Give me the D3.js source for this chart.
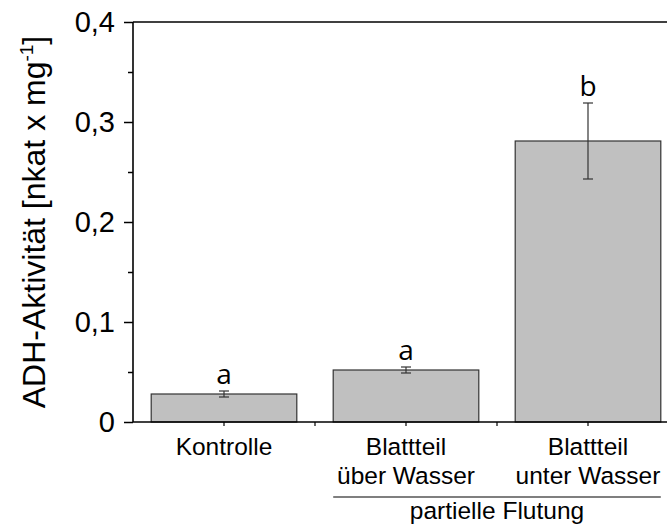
<!DOCTYPE html>
<html>
<head>
<meta charset="utf-8">
<script src="https://cdn.jsdelivr.net/npm/d3@7"></script>
<style>
  body { margin: 0; background: #fff; }
  text { font-family: "Liberation Sans", Arial, sans-serif; fill: #000; }
</style>
</head>
<body>
<svg width="667" height="529"></svg>
<script>
// ADH activity data
var categories = ["Kontrolle", "Blattteil über Wasser", "Blattteil unter Wasser"];
var labelLines = [["Kontrolle"], ["Blattteil", "über Wasser"], ["Blattteil", "unter Wasser"]];
var values = [0.028, 0.052, 0.281];
var errors = [0.003, 0.003, 0.038];
var letters = ["a", "a", "b"];
var yTicks = [0, 0.1, 0.2, 0.3, 0.4];
var yMinorTicks = [0.05, 0.15, 0.25, 0.35];
var groupLabel = "partielle Flutung";
var groupMembers = ["Blattteil über Wasser", "Blattteil unter Wasser"];

var svg = d3.select("svg");
var plotLeft = 133, plotTop = 22, plotBottom = 422, plotRight = 679;

var x = d3.scaleBand()
    .domain(categories)
    .range([plotLeft, plotRight])
    .paddingInner(0.2)
    .paddingOuter(0.1);

var y = d3.scaleLinear()
    .domain([0, 0.4])
    .range([plotBottom, plotTop]);

var de = d3.formatLocale({decimal: ",", thousands: ".", grouping: [3], currency: ["", "€"]});
var fmt = function (d) { return d === 0 ? "0" : de.format(".1f")(d); };

// bars
var data = categories.map(function (c, i) {
    return {cat: c, v: values[i], e: errors[i], letter: letters[i], lines: labelLines[i]};
});

svg.append("g").selectAll("rect")
    .data(data)
    .enter().append("rect")
    .attr("x", function (d) { return x(d.cat); })
    .attr("y", function (d) { return y(d.v); })
    .attr("width", x.bandwidth())
    .attr("height", function (d) { return y(0) - y(d.v); })
    .attr("fill", "#c0c0c0")
    .attr("stroke", "#333")
    .attr("stroke-width", 1.2);

// error bars
var eb = svg.append("g").selectAll("g")
    .data(data)
    .enter().append("g")
    .attr("stroke", "#333")
    .attr("stroke-width", 1.2);
eb.append("line")
    .attr("x1", function (d) { return x(d.cat) + x.bandwidth() / 2; })
    .attr("x2", function (d) { return x(d.cat) + x.bandwidth() / 2; })
    .attr("y1", function (d) { return y(d.v + d.e); })
    .attr("y2", function (d) { return y(d.v - d.e); });
[1, -1].forEach(function (s) {
    eb.append("line")
        .attr("x1", function (d) { return x(d.cat) + x.bandwidth() / 2 - 5; })
        .attr("x2", function (d) { return x(d.cat) + x.bandwidth() / 2 + 5; })
        .attr("y1", function (d) { return y(d.v + s * d.e); })
        .attr("y2", function (d) { return y(d.v + s * d.e); });
});

// significance letters
svg.append("g").selectAll("text")
    .data(data)
    .enter().append("text")
    .attr("x", function (d) { return x(d.cat) + x.bandwidth() / 2; })
    .attr("y", function (d) { return y(d.v + d.e) - 7; })
    .attr("text-anchor", "middle")
    .style("font-family", "'Open Sans', sans-serif")
    .style("font-size", "28px")
    .text(function (d) { return d.letter; });

// y axis
var yAxis = d3.axisLeft(y)
    .tickValues(yTicks)
    .tickFormat(fmt)
    .tickSize(9)
    .tickPadding(9);
var ya = svg.append("g")
    .attr("transform", "translate(" + plotLeft + ",0)")
    .call(yAxis);
ya.select(".domain").remove();
ya.selectAll("line").attr("stroke", "#000").attr("stroke-width", 1.5);
ya.selectAll("text").style("font-size", "29px").style("font-family", "'Liberation Sans', Arial, sans-serif");

var yMinor = svg.append("g")
    .attr("transform", "translate(" + plotLeft + ",0)")
    .call(d3.axisLeft(y).tickValues(yMinorTicks).tickSize(5).tickFormat(""));
yMinor.select(".domain").remove();
yMinor.selectAll("line").attr("stroke", "#000").attr("stroke-width", 1.5);

// x ticks at centers and between bars
var xTickPos = [];
categories.forEach(function (c, i) {
    xTickPos.push(x(c) + x.bandwidth() / 2);
    xTickPos.push(x(c) + x.bandwidth() / 2 + x.step() / 2);
});
svg.append("g").selectAll("line")
    .data(xTickPos)
    .enter().append("line")
    .attr("x1", function (d) { return d; })
    .attr("x2", function (d) { return d; })
    .attr("y1", plotBottom)
    .attr("y2", plotBottom + 4)
    .attr("stroke", "#000")
    .attr("stroke-width", 1.2);

// frame
var frame = svg.append("g").attr("stroke", "#000").attr("stroke-width", 1.6).attr("fill", "none");
frame.append("line").attr("x1", plotLeft).attr("x2", plotLeft).attr("y1", plotTop).attr("y2", plotBottom);
frame.append("line").attr("x1", plotLeft).attr("x2", plotRight).attr("y1", plotBottom).attr("y2", plotBottom);
frame.append("line").attr("x1", plotLeft).attr("x2", plotRight).attr("y1", plotTop).attr("y2", plotTop);
frame.append("line").attr("x1", plotRight).attr("x2", plotRight).attr("y1", plotTop).attr("y2", plotBottom);

// x labels
var xl = svg.append("g").selectAll("text")
    .data(data)
    .enter().append("text")
    .attr("text-anchor", "middle")
    .style("font-size", "24.5px")
    .attr("transform", function (d) {
        return "translate(" + (x(d.cat) + x.bandwidth() / 2) + ",455)";
    });
xl.selectAll("tspan")
    .data(function (d) { return d.lines; })
    .enter().append("tspan")
    .attr("x", 0)
    .attr("y", function (d, i) { return i * 29; })
    .text(function (d) { return d; });

// group bracket
var gx0 = x(groupMembers[0]), gx1 = x(groupMembers[1]) + x.bandwidth();
svg.append("line")
    .attr("x1", gx0).attr("x2", gx1)
    .attr("y1", 497).attr("y2", 497)
    .attr("stroke", "#000").attr("stroke-width", 1.2);
svg.append("text")
    .attr("x", (gx0 + gx1) / 2)
    .attr("y", 519)
    .attr("text-anchor", "middle")
    .style("font-size", "24.5px")
    .text(groupLabel);

// y label
var yl = svg.append("text")
    .attr("transform", "translate(45," + ((plotTop + plotBottom) / 2) + ") rotate(-90)")
    .attr("text-anchor", "middle")
    .style("font-size", "32px");
yl.append("tspan").text("ADH-Aktivität [nkat x mg");
yl.append("tspan").attr("dy", -12).style("font-size", "19px").text("-1");
yl.append("tspan").attr("dy", 12).text("]");
</script>
</body>
</html>
